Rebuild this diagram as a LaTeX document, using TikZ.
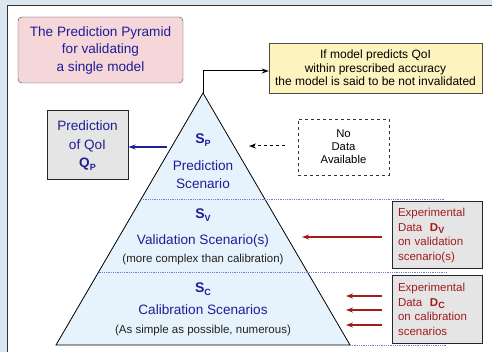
\documentclass[tikz,border=0pt]{standalone}
\usepackage{fontspec}
\setmainfont{Liberation Sans}
\usetikzlibrary{arrows.meta}

\definecolor{bgblue}{HTML}{DCE8F1}
\definecolor{pyrfill}{HTML}{E6F3FC}
\definecolor{titlepink}{HTML}{F5D6D9}
\definecolor{noteyellow}{HTML}{FDF3BF}
\definecolor{boxgray}{HTML}{E5E5E5}
\definecolor{navy}{HTML}{1E1E96}
\definecolor{darkred}{HTML}{A31C1C}
\definecolor{dotblue}{HTML}{7A7AD0}
\definecolor{inktext}{HTML}{222222}

% subscript letter in the same sans face
\newcommand{\lowsub}[1]{\raisebox{-0.35ex}{\fontsize{9}{9}\selectfont\bfseries #1}}

\begin{document}
\begin{tikzpicture}[x=1pt,y=-1pt,
  every node/.style={inner sep=0pt,align=center},
  titlebox/.style={draw=gray!50!black,fill=titlepink,rounded corners=4pt,
    text=navy,font=\fontsize{13.6}{17.5}\selectfont,
    minimum width=165pt,minimum height=66pt},
  notebox/.style={draw=gray!60!black,fill=noteyellow,text=black,
    font=\fontsize{12}{13.5}\selectfont,minimum width=213pt,minimum height=50pt},
  qoibox/.style={draw=gray!30!black,line width=1pt,fill=boxgray,text=navy,
    font=\fontsize{13.6}{18.5}\selectfont,minimum width=81pt,minimum height=69pt},
  nodatabox/.style={draw=black!80,dashed,thick,fill=white,text=black,
    font=\fontsize{11.3}{13}\selectfont,minimum width=91pt,minimum height=56pt},
  expbox/.style={draw=gray!30!black,line width=1pt,fill=boxgray,text=darkred,
    align=left,font=\fontsize{11.5}{14.7}\selectfont,
    minimum width=90pt,minimum height=67pt,text width=78pt},
  levelsym/.style={text=navy,font=\fontsize{14}{14}\selectfont\bfseries},
  levelname/.style={text=navy,font=\fontsize{13.6}{17.5}\selectfont},
  levelnote/.style={text=inktext,font=\fontsize{11.5}{13}\selectfont},
  tier/.style={dotblue,densely dotted,line width=0.8pt},
  navyarrow/.style={navy,line width=1.2pt,-{Stealth[length=7pt,width=5pt]}},
  redarrow/.style={darkred,line width=1.3pt,-{Stealth[length=7pt,width=5pt]}},
  plainarrow/.style={black,line width=1pt,-{Stealth[length=7pt,width=5pt]}}
]
\useasboundingbox (0,0) rectangle (492,352);

% page and panel
\fill[bgblue] (0,0) rectangle (492,352);
\fill[white] (7,5) rectangle (493,353);
\draw[gray!40!black,line width=0.8pt] (7,353) -- (7,5) -- (493,5);

% pyramid
\coordinate (apex) at (203,93);
\coordinate (bl) at (56,345);
\coordinate (br) at (350,345);
\filldraw[fill=pyrfill,draw=black,line width=0.8pt] (apex) -- (bl) -- (br) -- cycle;

% tier boundaries
\coordinate (t1l) at (141,199);
\coordinate (t1r) at (445,199);
\coordinate (t2l) at (98.6,272);
\coordinate (t2r) at (447,272);
\coordinate (t3r) at (447,345);
\draw[tier] (t1l) -- (t1r);
\draw[tier] (t2l) -- (t2r);
\draw[tier] (br) -- (t3r);

% tier labels
\node[levelsym] (sp) at (203,140) {S\lowsub{P}};
\node[levelname] (pname) at (203,174.5) {Prediction\\Scenario};
\node[levelsym] (sv) at (203,215) {S\lowsub{V}};
\node[levelname] (vname) at (203,241) {Validation Scenario(s)};
\node[levelnote] (vnote) at (203,260) {(more complex than calibration)};
\node[levelsym] (sc) at (203,289) {S\lowsub{C}};
\node[levelname] (cname) at (203,310) {Calibration Scenarios};
\node[levelnote] (cnote) at (203,331) {(As simple as possible, numerous)};

% boxes
\node[titlebox] (title) at (100.5,50) {The Prediction Pyramid\\for validating\\a single model};
\node[notebox] (note) at (375.5,68) {If model predicts QoI\\within prescribed accuracy\\the model is said to be not invalidated};
\node[qoibox] (qoi) at (87.5,145.5) {Prediction\\of QoI\\\textbf{Q\lowsub{P}}};
\node[nodatabox] (nodata) at (343.5,147) {No\\Data\\Available};
\node[expbox] (expv) at (437,235.5) {Experimental\\Data\ \ \textbf{D\lowsub{V}}\\on validation\\scenario(s)};
\node[expbox] (expc) at (437,309.5) {Experimental\\Data\ \ \textbf{D\lowsub{C}}\\on calibration\\scenarios};

% connectors
\draw[plainarrow] (apex) |- ([yshift=-3pt]note.west);
\coordinate (pout) at (167,147);
\draw[navyarrow] (pout) -- (qoi.east |- pout);
\coordinate (ndin) at (249,146);
\draw[plainarrow,dashed] ([xshift=-13pt]nodata.west |- ndin) -- (ndin);
\coordinate (vin) at (302,237);
\draw[redarrow] ([xshift=-10pt]expv.west |- vin) -- (vin);
\coordinate (cin1) at (346,296);
\coordinate (cin2) at (346,310);
\coordinate (cin3) at (346,325);
\draw[redarrow] ([xshift=-10pt]expc.west |- cin1) -- (cin1);
\draw[redarrow] ([xshift=-10pt]expc.west |- cin2) -- (cin2);
\draw[redarrow] ([xshift=-10pt]expc.west |- cin3) -- (cin3);
\end{tikzpicture}
\end{document}
